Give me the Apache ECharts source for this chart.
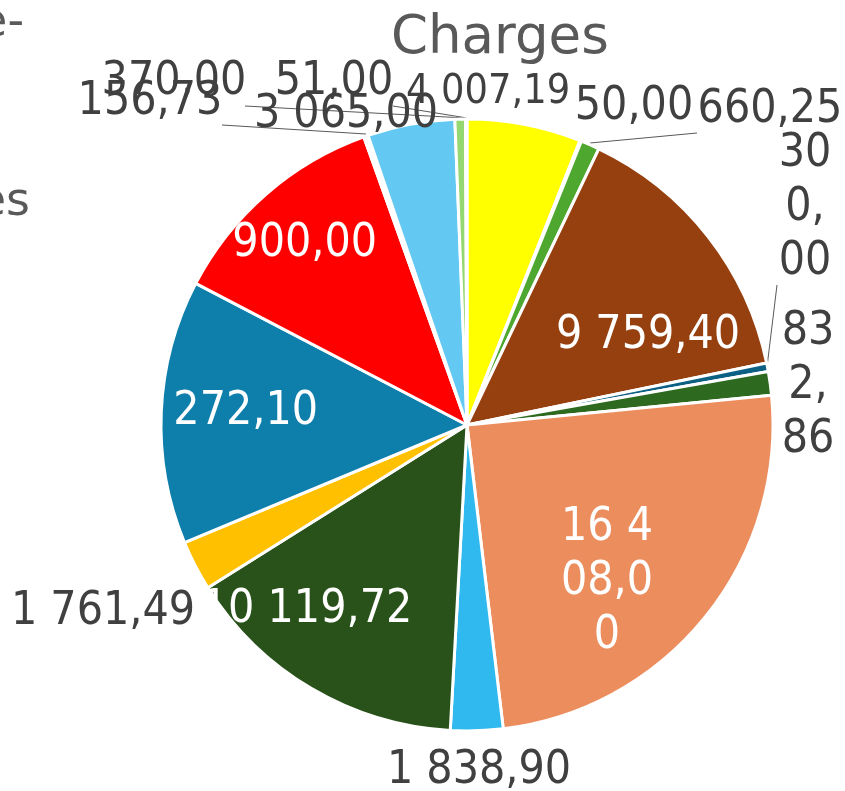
<!DOCTYPE html>
<html>
<head>
<meta charset="utf-8">
<style>
  html, body { margin: 0; padding: 0; background: #ffffff; }
  #chart { width: 845px; height: 791px; }
</style>
<script src="https://cdn.jsdelivr.net/npm/echarts@6/dist/echarts.min.js"></script>
</head>
<body>
<div id="chart"></div>
<script>
// ---- data ----
const categories = ['Charge 1', 'Charge 2', 'Charge 3', 'Charge 4', 'Charge 5', 'Charge 6', 'Charge 7', 'Charge 8',
                    'Charge 9', 'Charge 10', 'Charge 11', 'Charge 12', 'Charge 13', 'Charge 14', 'Charge 15', 'Charge 16'];
const values = [4007.19, 50.00, 660.25, 9759.40, 300.00, 832.86, 16408.00, 1838.90,
                10119.72, 1761.49, 9272.10, 7900.00, 156.73, 3065.00, 370.00, 51.00];
const titleText = 'Charges';
const legendFragments = ['e-', 'es'];

// ---- styles ----
const colors = ['#FFFF00', '#A5A5A5', '#4EA72E', '#97400F', '#0C6083', '#2D6A1F', '#EC8D5E', '#2FB9EF',
                '#285219', '#FFC000', '#0E7EAB', '#FF0000', '#FFFFFF', '#63C9F3', '#95D770', '#D9D9D9'];
const insideIdx = [3, 6, 8, 10, 11];
const labelFont = 'DejaVu Sans Condensed';
// label placement (centre of the label text) and optional leader lines
const labelPos = [
  { x: 488, y: 92, size: 41 },
  { x: 634, y: 107 },
  { x: 770, y: 110, line: [[590, 143], [697, 133]] },
  { x: 648, y: 336 },
  { x: 805, y: 208, width: 56, line: [[767, 367], [777, 285]] },
  { x: 808, y: 386, width: 56 },
  { x: 607, y: 582, width: 96 },
  { x: 479, y: 771 },
  { x: 307, y: 610 },
  { x: 103, y: 612 },
  { x: 226, y: 412 },
  { x: 285, y: 244 },
  { x: 150, y: 102, line: [[366, 134], [222, 125]] },
  { x: 346, y: 115 },
  { x: 174, y: 82, line: [[465, 118], [245, 106]] },
  { x: 334, y: 82, line: [[467, 118], [393, 106]] }
];

function fmt(v) {
  const parts = v.toFixed(2).split('.');
  const intPart = parts[0].replace(/\B(?=(\d{3})+(?!\d))/g, ' ');
  return intPart + ',' + parts[1];
}

const data = values.map(function (v, i) {
  const inside = insideIdx.indexOf(i) >= 0;
  const lp = labelPos[i];
  const label = {
    show: true,
    position: inside ? 'inside' : 'outside',
    color: inside ? '#FFFFFF' : '#404040',
    fontSize: lp.size || 46,
    fontFamily: labelFont,
    lineHeight: 54,
    textBorderWidth: 0
  };
  if (lp.width) { label.width = lp.width; label.overflow = 'breakAll'; }
  return {
    name: categories[i],
    value: v,
    itemStyle: { color: colors[i] },
    label: label,
    labelLine: { show: !!lp.line, lineStyle: { color: '#595959', width: 1 } }
  };
});

const chart = echarts.init(document.getElementById('chart'), null, { renderer: 'canvas' });
chart.setOption({
  backgroundColor: '#ffffff',
  animation: false,
  title: {
    text: titleText,
    left: 386,
    top: 8,
    textStyle: { fontFamily: 'DejaVu Sans', fontSize: 53, fontWeight: 'normal', color: '#595959' }
  },
  graphic: [
    { type: 'text', right: 821, top: 1, style: { text: legendFragments[0], font: '46px "DejaVu Sans"', fill: '#595959' } },
    { type: 'text', right: 815, top: 180, style: { text: legendFragments[1], font: '46px "DejaVu Sans"', fill: '#595959' } }
  ],
  series: [{
    type: 'pie',
    center: [467, 425],
    radius: 306,
    startAngle: 90,
    clockwise: true,
    avoidLabelOverlap: false,
    minAngle: 0,
    itemStyle: { borderColor: '#FFFFFF', borderWidth: 3 },
    emphasis: { disabled: true },
    label: { formatter: function (p) { return fmt(p.value); } },
    labelLayout: function (params) {
      const lp = labelPos[params.dataIndex];
      const out = { x: lp.x, y: lp.y, align: 'center', verticalAlign: 'middle' };
      if (lp.line) { out.labelLinePoints = lp.line; }
      return out;
    },
    data: data
  }]
});
</script>
</body>
</html>
